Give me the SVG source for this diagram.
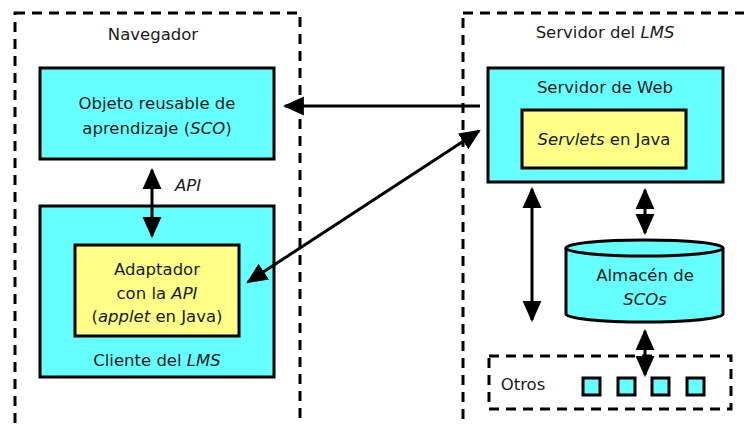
<svg xmlns="http://www.w3.org/2000/svg" width="744" height="424" viewBox="0 0 744 424">
<defs>
<marker id="ah" viewBox="0 0 10 10" refX="9" refY="5" markerWidth="7" markerHeight="7" markerUnits="strokeWidth" orient="auto-start-reverse">
<path d="M0,0.5 L10,5 L0,9.5 z" fill="#000"/>
</marker>
</defs>
<style>
text{font-family:"DejaVu Sans",Verdana,sans-serif;font-size:16.5px;fill:#1a1a1a;text-anchor:middle}
.it{font-style:italic}
.dash{fill:none;stroke:#000;stroke-width:3;stroke-dasharray:10,7}
.cy{fill:#66FFFF;stroke:#000;stroke-width:3}
.ye{fill:#FFFF88;stroke:#000;stroke-width:3}
.conn{stroke:#000;stroke-width:3;fill:none;marker-end:url(#ah)}
.both{marker-start:url(#ah)}
</style>
<rect width="744" height="424" fill="#fff"/>
<g id="navegador">
<rect class="dash" x="15" y="13" width="285" height="430"/>
<text x="153" y="40">Navegador</text>
</g>
<g id="servidor-lms">
<rect class="dash" x="463" y="13" width="300" height="430"/>
<text x="605" y="38">Servidor del <tspan class="it">LMS</tspan></text>
</g>
<g id="sco">
<rect class="cy" x="40" y="68" width="234" height="91"/>
<text x="157" y="109">Objeto reusable de</text>
<text x="157" y="134">aprendizaje (<tspan class="it">SCO</tspan>)</text>
</g>
<g id="cliente">
<rect class="cy" x="40" y="206" width="234" height="171"/>
<text x="157" y="366">Cliente del <tspan class="it">LMS</tspan></text>
</g>
<g id="adaptador">
<rect class="ye" x="75" y="245" width="164" height="91"/>
<text x="157" y="275">Adaptador</text>
<text x="157" y="299">con la <tspan class="it">API</tspan></text>
<text x="157" y="322">(<tspan class="it">applet</tspan> en Java)</text>
</g>
<g id="web">
<rect class="cy" x="488" y="68" width="235" height="114"/>
<text x="605" y="93">Servidor de Web</text>
</g>
<g id="servlets">
<rect class="ye" x="522" y="110" width="164" height="58"/>
<text x="604" y="145"><tspan class="it">Servlets</tspan> en Java</text>
</g>
<g id="almacen">
<path class="cy" d="M566,248 L566,314 A78.5,8 0 0 0 723,314 L723,248"/>
<ellipse class="cy" cx="644.5" cy="248" rx="78.5" ry="8"/>
<text x="645" y="281">Almacén de</text>
<text x="645" y="305" class="it">SCOs</text>
</g>
<g id="otros">
<rect class="dash" x="489" y="356" width="242" height="53"/>
<text x="523" y="390">Otros</text>
<rect class="cy" x="583" y="378" width="17" height="17" stroke-width="2.5"/>
<rect class="cy" x="618" y="378" width="17" height="17" stroke-width="2.5"/>
<rect class="cy" x="652" y="378" width="17" height="17" stroke-width="2.5"/>
<rect class="cy" x="687" y="378" width="17" height="17" stroke-width="2.5"/>
</g>
<text x="188" y="191" class="it">API</text>
<g id="connectors">
<line class="conn" x1="480" y1="106" x2="285" y2="106"/>
<line class="conn both" x1="152" y1="170" x2="152" y2="236"/>
<line class="conn both" x1="248" y1="282" x2="479" y2="131"/>
<line class="conn both" x1="532" y1="189" x2="532" y2="320"/>
<line class="conn both" x1="645" y1="190" x2="645" y2="233"/>
<line class="conn both" x1="645" y1="331" x2="645" y2="375"/>
</g>
</svg>
